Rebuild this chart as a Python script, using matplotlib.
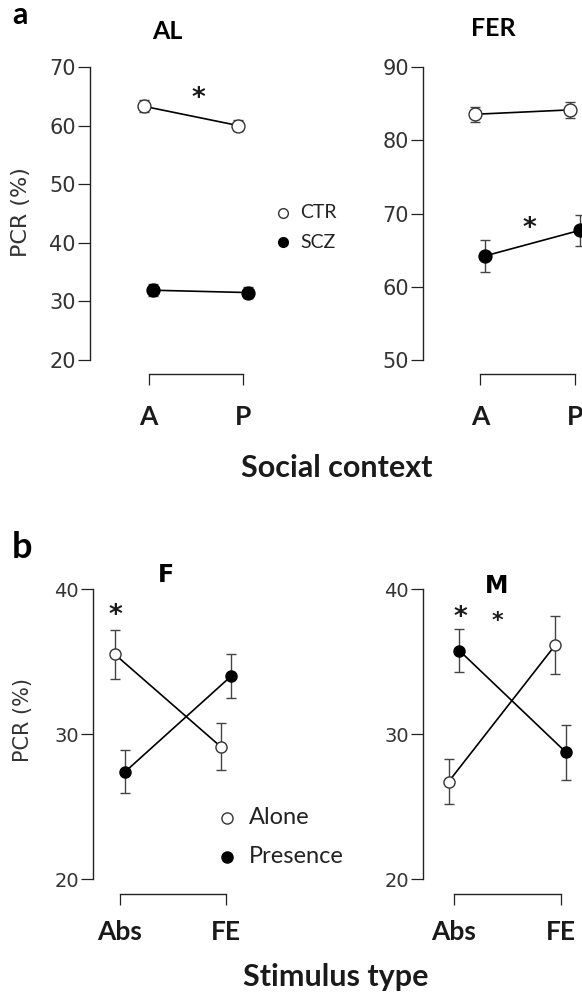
import numpy as np
import matplotlib
matplotlib.use("Agg")
import matplotlib.pyplot as plt
from matplotlib.lines import Line2D

W, H = 582, 994

# ---- panel a: PCR by social context (A = alone, P = presence) ----
context = ["A", "P"]
al_ctr = [63.3, 60.0]
al_ctr_err = [1.0, 1.0]
al_scz = [31.9, 31.5]
al_scz_err = [1.0, 1.0]
fer_ctr = [83.55, 84.15]
fer_ctr_err = [1.0, 1.05]
fer_scz = [64.2, 67.7]
fer_scz_err = [2.15, 2.1]
group_labels = ["CTR", "SCZ"]

# ---- panel b: PCR by stimulus type ----
stimulus = ["Abs", "FE"]
f_alone = [35.53, 29.15]
f_alone_err = [1.69, 1.64]
f_presence = [27.43, 34.03]
f_presence_err = [1.47, 1.53]
m_alone = [26.74, 36.17]
m_alone_err = [1.54, 2.01]
m_presence = [35.78, 28.76]
m_presence_err = [1.47, 1.9]
condition_labels = ["Alone", "Presence"]

# significance stars: (x, y, size)
al_stars = [(1.53, 66.1, 19)]
fer_stars = [(1.52, 69.1, 19)]
f_stars = [(0.96, 38.8, 19)]
m_stars = [(1.056, 38.6, 19), (1.41, 38.3, 16)]

plt.rcParams["font.family"] = ["DejaVu Sans"]

DODGE = 0.05
BOLD = dict(family="Lato", weight="bold")
SPINE = "#222222"
TICKC = "#333333"


def add_axes_px(fig, left, top, right, bottom):
    return fig.add_axes([left / W, 1 - bottom / H, (right - left) / W, (bottom - top) / H])


def draw_pair(ax, open_v, open_e, fill_v, fill_e, ms):
    x = np.arange(1, len(open_v) + 1)
    common = dict(color="black", lw=1.2, ecolor="#444444", elinewidth=1.0,
                  capsize=3.6, capthick=1.0, marker="o", ms=ms, mew=1.0, zorder=3)
    ax.errorbar(x - DODGE, open_v, yerr=open_e, mfc="white", mec="#333333", **common)
    ax.errorbar(x + DODGE, fill_v, yerr=fill_e, mfc="black", mec="black", **common)


def style(ax, cats, yticks, xlim, ylim, ysize, xpad):
    ax.set_xlim(*xlim)
    ax.set_ylim(*ylim)
    for s in ["top", "right"]:
        ax.spines[s].set_visible(False)
    for s in ["left", "bottom"]:
        ax.spines[s].set_color(SPINE)
        ax.spines[s].set_linewidth(1.0)
    ax.spines["left"].set_bounds(yticks[0], yticks[-1])
    ax.spines["bottom"].set_bounds(1, len(cats))
    ax.set_yticks(yticks)
    ax.set_yticklabels([str(t) for t in yticks], family="DejaVu Sans")
    ax.set_xticks(np.arange(1, len(cats) + 1))
    ax.set_xticklabels(cats, fontsize=19, color="#1a1a1a", **BOLD)
    ax.tick_params(axis="y", direction="out", length=8.6, width=0.9, pad=1.5,
                   labelsize=ysize, labelcolor=TICKC, color=SPINE)
    ax.tick_params(axis="x", direction="out", length=8, width=0.9, pad=xpad, color=SPINE)
    ax.patch.set_alpha(0)


def stars(ax, items):
    for x, y, size in items:
        ax.annotate("*", xy=(x, y), xytext=(0, -0.33 * size), textcoords="offset points",
                    ha="center", va="center", fontsize=size, fontweight="bold",
                    color="#1a1a1a", annotation_clip=False)


def legend(fig, labels, x, ys, tx, ms, size):
    for lab, y, fc in zip(labels, ys, ["white", "black"]):
        fig.add_artist(Line2D([x / W], [1 - y / H], transform=fig.transFigure, marker="o",
                              ms=ms, mfc=fc, mec="#333333" if fc == "white" else "black",
                              mew=1.0, ls="none"))
        fig.text(tx / W, 1 - y / H, lab, ha="left", va="center", fontsize=size,
                 family="Lato", color="#222222")


fig = plt.figure(figsize=(W / 100, H / 100), dpi=100)
fig.patch.set_facecolor("white")

# AL
ax = add_axes_px(fig, 90, 55.3, 301.7, 374)
draw_pair(ax, al_ctr, al_ctr_err, al_scz, al_scz_err, 9.3)
style(ax, context, [20, 30, 40, 50, 60, 70], (0.38, 2.62), (17.6, 72.0), 15, 14.4)
stars(ax, al_stars)

# FER
ax = add_axes_px(fig, 423, 55.3, 632, 374)
draw_pair(ax, fer_ctr, fer_ctr_err, fer_scz, fer_scz_err, 9.3)
style(ax, context, [50, 60, 70, 80, 90], (0.4, 2.6), (48.09, 91.6), 15, 14.4)
stars(ax, fer_stars)

# F
ax = add_axes_px(fig, 93, 575, 279, 894)
draw_pair(ax, f_alone, f_alone_err, f_presence, f_presence_err, 8)
style(ax, stimulus, [20, 30, 40], (0.745, 2.5), (18.98, 41.0), 14, 11)
stars(ax, f_stars)

# M
ax = add_axes_px(fig, 423, 575, 614, 894)
draw_pair(ax, m_alone, m_alone_err, m_presence, m_presence_err, 8)
style(ax, stimulus, [20, 30, 40], (0.709, 2.5), (18.98, 41.0), 14, 11)
stars(ax, m_stars)

# legends
legend(fig, group_labels, 283, [213, 242], 300, 7, 14)
legend(fig, condition_labels, 227, [818, 856.7], 249, 8, 17)

# panel letters, titles, labels
fig.text(12 / W, 1 - 24 / H, "a", fontsize=22, ha="left", va="baseline", **BOLD)
fig.text(12 / W, 1 - 558 / H, "b", fontsize=26, ha="left", va="baseline", **BOLD)
fig.text(167 / W, 1 - 39 / H, "AL", fontsize=18, ha="center", va="baseline", **BOLD)
fig.text(493 / W, 1 - 36 / H, "FER", fontsize=18, ha="center", va="baseline", **BOLD)
fig.text(166 / W, 1 - 582 / H, "F", fontsize=17, ha="center", va="baseline",
         family="DejaVu Sans", weight="bold")
fig.text(497 / W, 1 - 593 / H, "M", fontsize=17, ha="center", va="baseline",
         family="DejaVu Sans", weight="bold")
fig.text(21 / W, 1 - 212.5 / H, "PCR (%)", rotation=90, ha="center", va="center",
         fontsize=16, color=TICKC)
fig.text(22.5 / W, 1 - 720 / H, "PCR (%)", rotation=90, ha="center", va="center",
         fontsize=15, color=TICKC)
fig.text(337 / W, 1 - 477 / H, "Social context", fontsize=22, ha="center",
         va="baseline", color="#1a1a1a", **BOLD)
fig.text(336 / W, 1 - 986 / H, "Stimulus type", fontsize=22, ha="center",
         va="baseline", color="#1a1a1a", **BOLD)

fig.savefig("out.png", dpi=100)
